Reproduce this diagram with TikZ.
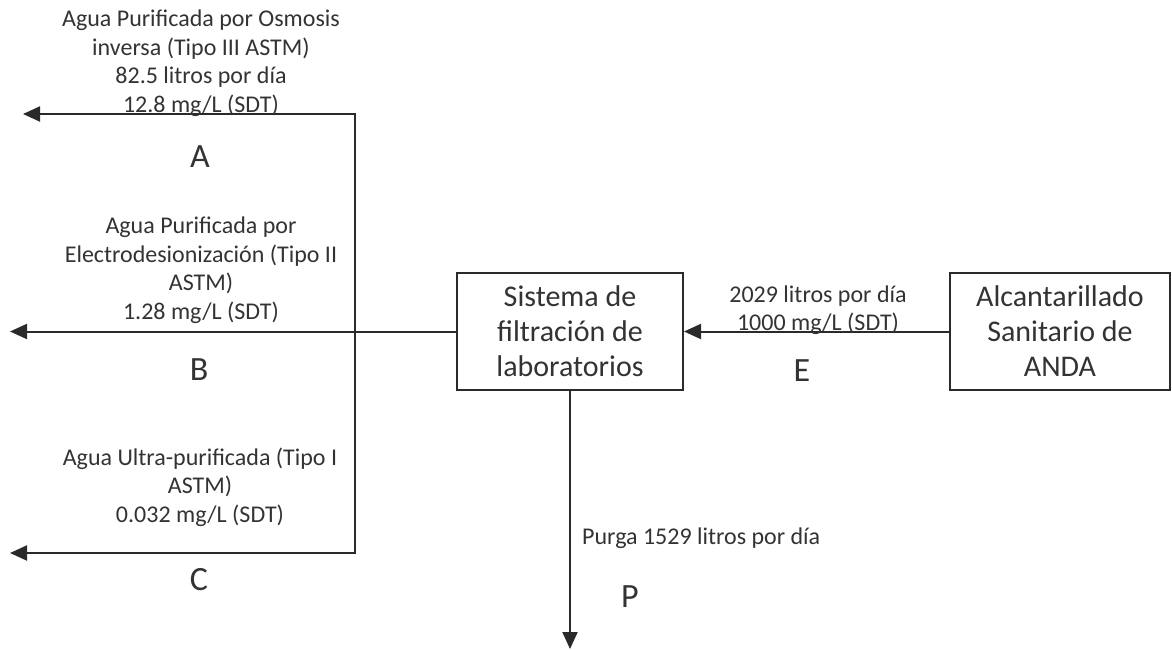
\documentclass[tikz,border=0pt]{standalone}
\usepackage{fontspec}
\setmainfont{Carlito}
\usetikzlibrary{arrows.meta}
\definecolor{ink}{HTML}{2A2A2A}
\definecolor{txt}{HTML}{333333}
\tikzset{
  flow/.style={draw=ink, line width=2pt},
  arr/.style={flow, -{Triangle[length=17pt,width=15pt]}},
  procbox/.style={draw=ink, line width=2pt, fill=white, minimum width=226pt, minimum height=117pt,
    align=center, text=txt, inner sep=0pt, font=\fontsize{30}{35}\selectfont},
  lbl/.style={align=center, text=txt, inner sep=0pt, font=\fontsize{24}{28.5}\selectfont},
  big/.style={text=txt, inner sep=0pt, font=\fontsize{34}{40}\selectfont}
}
\begin{document}
\begin{tikzpicture}[x=1pt,y=-1pt]
\useasboundingbox (0,0) rectangle (1172,650);
% boxes
\node[procbox] (sis) at (570,331.5) {Sistema de\\filtración de\\laboratorios};
\node[procbox, minimum width=220pt] (alc) at (1060,331.5) {Alcantarillado\\Sanitario de\\ANDA};
% coordinates
\coordinate (J) at (355,331.5);
\coordinate (Aend) at (23,114);
\coordinate (Bend) at (10,331.5);
\coordinate (Cend) at (10,553);
\coordinate (Pend) at (570,649);
% connectors
\draw[arr] (alc.west) -- (sis.east);
\draw[flow] (sis.west) -- (J);
\draw[arr] (J) -- (Bend);
\draw[arr] (J) |- (Aend);
\draw[arr] (J) |- (Cend);
\draw[arr] (sis.south) -- (Pend);
% labels
\node[lbl] (tA) at (201,63) {Agua Purificada por Osmosis\\inversa (Tipo III ASTM)\\82.5 litros por día\\12.8 mg/L (SDT)};
\node[lbl] (tB) at (201,270) {Agua Purificada por\\Electrodesionización (Tipo II\\ASTM)\\1.28 mg/L (SDT)};
\node[lbl] (tC) at (200,487) {Agua Ultra-purificada (Tipo I\\ASTM)\\0.032 mg/L (SDT)};
\node[lbl] (tE) at (818,310) {2029 litros por día\\1000 mg/L (SDT)};
\node[lbl, anchor=west] (tP) at (582,538) {Purga 1529 litros por día};
\node[big] (lA) at (200,157) {A};
\node[big] (lB) at (199,370) {B};
\node[big] (lC) at (199,580) {C};
\node[big] (lE) at (802,371) {E};
\node[big] (lP) at (630,597) {P};
\end{tikzpicture}
\end{document}
